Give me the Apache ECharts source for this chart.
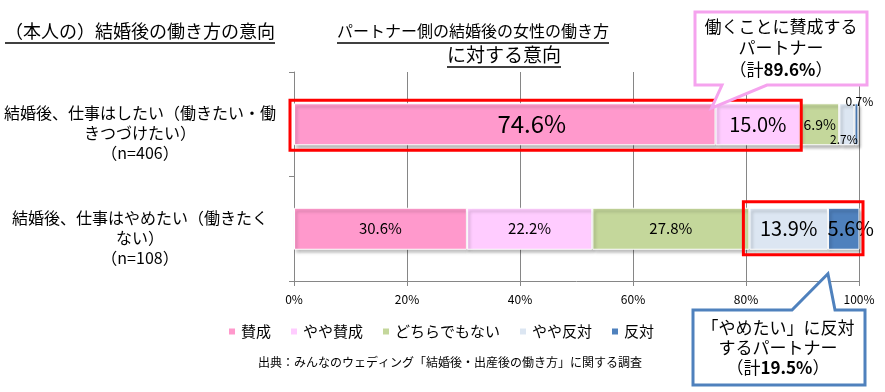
<!DOCTYPE html>
<html><head><meta charset="utf-8">
<script src="https://cdn.jsdelivr.net/npm/echarts@6/dist/echarts.min.js"></script>
<style>html,body{margin:0;padding:0;background:#fff}#c{width:885px;height:392px}</style>
</head><body><div id="c"></div>
<script>
// ---- data ----
const categories = [
  '結婚後、仕事はしたい（働きたい・働\nきつづけたい）\n（n=406）',
  '結婚後、仕事はやめたい（働きたく\nない）\n（n=108）'
];
const seriesNames = ['賛成', 'やや賛成', 'どちらでもない', 'やや反対', '反対'];
const agree = [74.6, 30.6];
const slightlyAgree = [15.0, 22.2];
const neutral = [6.9, 27.8];
const slightlyOppose = [2.7, 13.9];
const oppose = [0.7, 5.6];
const xTickMin = 0, xTickMax = 100, xTickStep = 20;

// ---- styles ----
const FONT = '"Noto Sans CJK JP", "Noto Sans", sans-serif';
const colors = ['#FF99CC', '#FFCCFF', '#C4D79B', '#DCE6F2', '#4F81BD'];
const labelStyles = [
  [{ fontSize: 24, offset: [27, 0] }, { fontSize: 15 }],
  [{ fontSize: 20 }, { fontSize: 15 }],
  [{ fontSize: 14 }, { fontSize: 15 }],
  [{ fontSize: 12, offset: [-3, 15] }, { fontSize: 20 }],
  [{ fontSize: 12, offset: [3, -23] }, { fontSize: 20, offset: [7, 0] }]
];
const allValues = [agree, slightlyAgree, neutral, slightlyOppose, oppose];

const chart = echarts.init(document.getElementById('c'), null, { renderer: 'canvas' });

const series = allValues.map((vals, si) => ({
  name: seriesNames[si],
  type: 'bar',
  stack: 'total',
  barWidth: 42,
  itemStyle: {
    color: colors[si],
    borderColor: '#fff',
    borderWidth: 1,
    shadowColor: 'rgba(0,0,0,0.3)',
    shadowBlur: 3,
    shadowOffsetY: 3,
    shadowOffsetX: 2
  },
  label: {
    show: true,
    position: 'inside',
    color: '#000',
    fontFamily: FONT,
    formatter: p => p.value.toFixed(1) + '%'
  },
  data: vals.map((v, ci) => ({
    value: v,
    label: Object.assign({}, labelStyles[si][ci])
  }))
}));

const option = {
  animation: false,
  textStyle: { fontFamily: FONT },
  grid: { left: 294, right: 26, top: 72, bottom: 111, containLabel: false },
  xAxis: {
    type: 'value',
    min: xTickMin, max: xTickMax, interval: xTickStep,
    axisLine: { show: true, lineStyle: { color: '#868686' } },
    axisTick: { show: true, length: 5, lineStyle: { color: '#868686' } },
    splitLine: { show: true, lineStyle: { color: '#868686', width: 1 } },
    axisLabel: { formatter: '{value}%', fontSize: 12, color: '#000', margin: 12, fontFamily: FONT }
  },
  yAxis: {
    type: 'category',
    inverse: true,
    data: categories,
    axisLine: { show: true, lineStyle: { color: '#868686' } },
    axisTick: { show: true, length: 5, lineStyle: { color: '#868686' } },
    splitLine: { show: false },
    axisLabel: {
      color: '#000', align: 'center', margin: 154, fontFamily: FONT,
      formatter: v => '{s| }\n' + v.split('\n').map(l => '{t|' + l + '}').join('\n'),
      rich: {
        s: { fontSize: 10, lineHeight: 18, fontFamily: FONT },
        t: { fontSize: 16, lineHeight: 20, color: '#000', fontFamily: FONT }
      }
    }
  },
  legend: {
    data: seriesNames,
    left: 227, top: 324, padding: 0,
    icon: 'rect', itemWidth: 8, itemHeight: 8, itemGap: 18,
    textStyle: { fontSize: 15, color: '#000', fontFamily: FONT }
  },
  series: series
};
chart.setOption(option);

// ---- annotations computed from data ----
function px(v, c) { return chart.convertToPixel({ gridIndex: 0 }, [v, c]); }
const half = 21;
const y0 = px(0, 0)[1], y1 = px(0, 1)[1];
const agreeTotal = +(agree[0] + slightlyAgree[0]).toFixed(1);
const opposeTotal = +(slightlyOppose[1] + oppose[1]).toFixed(1);
const xStart0 = px(0, 0)[0];
const xAgreeEnd = px(agreeTotal, 0)[0];
const xOppStart = px(agree[1] + slightlyAgree[1] + neutral[1], 1)[0];
const xEnd1 = px(xTickMax, 1)[0];
const tipPink = [px(agree[0], 0)[0] - 4, y0 - half + 5];
const tipBlue = [px(agree[1] + slightlyAgree[1] + neutral[1] + slightlyOppose[1], 1)[0], y1 + half + 24];

const mctx = document.createElement('canvas').getContext('2d');
function tw(text, size) { mctx.font = size + 'px ' + FONT; return mctx.measureText(text).width; }

const t1 = '（本人の）結婚後の働き方の意向';
const t2a = 'パートナー側の結婚後の女性の働き方';
const t2b = 'に対する意向';
const t1x = 5, t2ax = 337, t2bCenter = 504;
const w1 = tw(t1, 18), w2a = tw(t2a, 16), w2b = tw(t2b, 19);

const graphic = [
  { type: 'text', left: t1x, top: 22, style: { text: t1, fontSize: 18, fill: '#000', fontFamily: FONT } },
  { type: 'line', shape: { x1: t1x, y1: 43, x2: t1x + w1, y2: 43 }, style: { stroke: '#000', lineWidth: 1.5 } },
  { type: 'text', left: t2ax, top: 23, style: { text: t2a, fontSize: 16, fill: '#000', fontFamily: FONT } },
  { type: 'line', shape: { x1: t2ax, y1: 43, x2: t2ax + w2a, y2: 43 }, style: { stroke: '#000', lineWidth: 1.5 } },
  { type: 'text', x: t2bCenter, y: 45, style: { text: t2b, fontSize: 19, fill: '#000', fontFamily: FONT, align: 'center' } },
  { type: 'line', shape: { x1: t2bCenter - w2b / 2, y1: 67, x2: t2bCenter + w2b / 2, y2: 67 }, style: { stroke: '#000', lineWidth: 1.5 } },
  // red boxes
  { type: 'rect', shape: { x: xStart0 - 4, y: y0 - half - 3, width: xAgreeEnd - xStart0 + 5, height: 2 * half + 8 },
    style: { fill: 'none', stroke: '#FF0000', lineWidth: 3 }, z: 100 },
  { type: 'rect', shape: { x: xOppStart - 6, y: y1 - half - 6, width: xEnd1 - xOppStart + 10, height: 2 * half + 11 },
    style: { fill: 'none', stroke: '#FF0000', lineWidth: 3 }, z: 100 },
  // pink callout
  { type: 'polygon', shape: { points: [[695, 12], [867, 12], [867, 85], [767, 85], tipPink, [722, 85], [695, 85]] },
    style: { fill: '#fff', stroke: '#F5A3EE', lineWidth: 3 }, z: 101 },
  { type: 'text', x: 781, y: 48, z: 102, style: {
      text: '{a|働くことに賛成する}\n{a|パートナー}\n{a|（計}{b|' + agreeTotal.toFixed(1) + '%}{a|）}',
      align: 'center', verticalAlign: 'middle', fontFamily: FONT,
      rich: { a: { fontSize: 17, lineHeight: 21.5, fill: '#000', fontFamily: FONT },
              b: { fontSize: 17, lineHeight: 21.5, fill: '#000', fontWeight: 'bold', fontFamily: FONT } } } },
  // blue callout
  { type: 'polygon', shape: { points: [[693, 310], [792, 310], tipBlue, [835, 310], [865, 310], [865, 385], [693, 385]] },
    style: { fill: '#fff', stroke: '#4F81BD', lineWidth: 3 }, z: 101 },
  { type: 'text', x: 778, y: 348, z: 102, style: {
      text: '{a|「やめたい」に反対}\n{a|するパートナー}\n{a|（計}{b|' + opposeTotal.toFixed(1) + '%}{a|）}',
      align: 'center', verticalAlign: 'middle', fontFamily: FONT,
      rich: { a: { fontSize: 17, lineHeight: 20, fill: '#000', fontFamily: FONT },
              b: { fontSize: 17, lineHeight: 20, fill: '#000', fontWeight: 'bold', fontFamily: FONT } } } },
  // source
  { type: 'text', left: 258, top: 356, style: { text: '出典：みんなのウェディング「結婚後・出産後の働き方」に関する調査', fontSize: 12, fill: '#000', fontFamily: FONT } }
];
chart.setOption({ graphic: graphic });
</script>
</body></html>
